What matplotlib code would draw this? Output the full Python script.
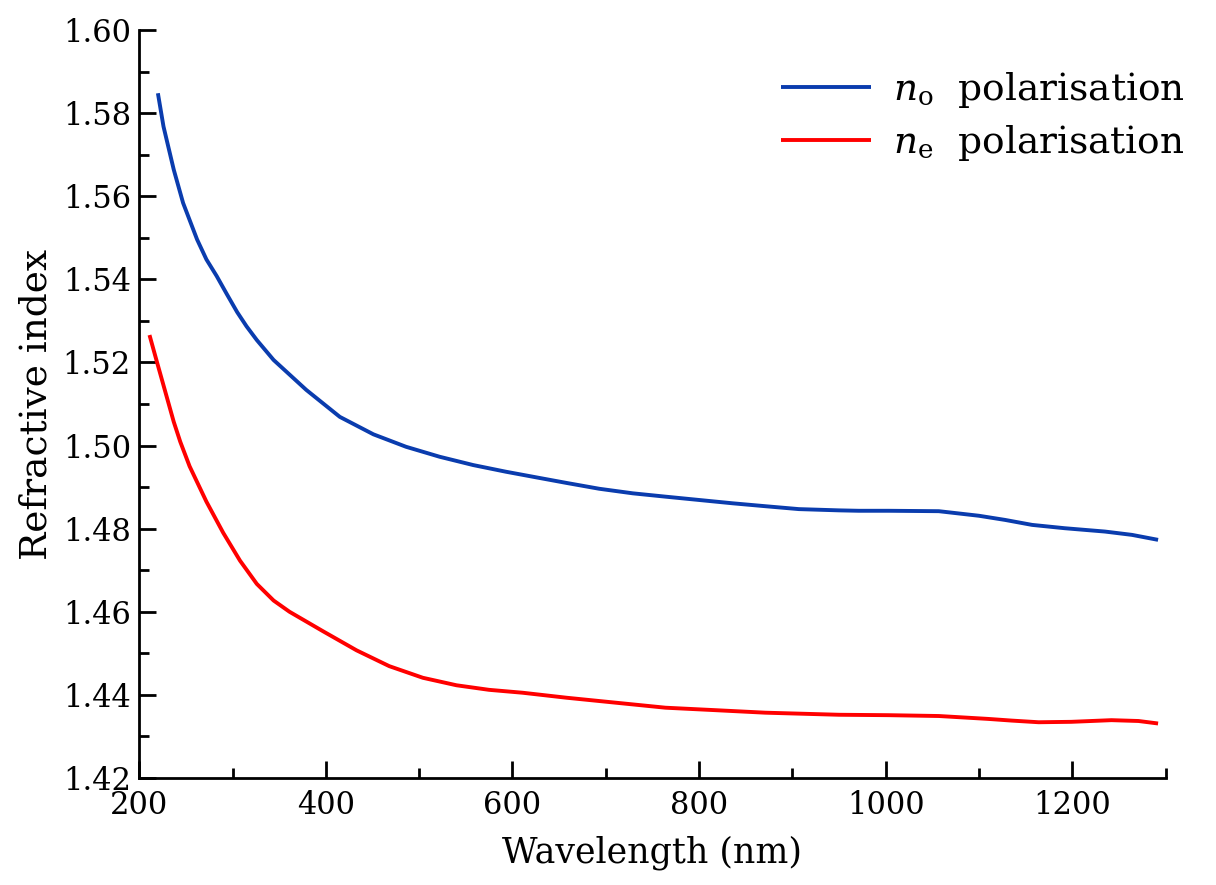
import numpy as np
import matplotlib
matplotlib.use('Agg')
import matplotlib.pyplot as plt
from matplotlib.ticker import MultipleLocator, FormatStrFormatter

plt.rcParams['font.family'] = ['DejaVu Serif']
plt.rcParams['mathtext.fontset'] = 'dejavuserif'

# n_o (ordinary) polarisation
wl_o = [220, 226, 237, 247, 262, 272, 283, 294, 305, 315, 326, 344, 379, 415,
        451, 486, 522, 558, 593, 629, 658, 693, 729, 764, 800, 836, 871, 907,
        950, 971, 1003, 1057, 1100, 1128, 1157, 1192, 1235, 1264, 1292]
n_o = [1.5848, 1.5768, 1.5664, 1.5584, 1.5496, 1.5448, 1.5408, 1.5364, 1.5321,
       1.5287, 1.5254, 1.5206, 1.5134, 1.5069, 1.5027, 1.4997, 1.4973, 1.4953,
       1.4937, 1.4922, 1.4910, 1.4896, 1.4885, 1.4877, 1.4869, 1.4861, 1.4854,
       1.4847, 1.4844, 1.4843, 1.4843, 1.4842, 1.4831, 1.4821, 1.4809, 1.4801,
       1.4793, 1.4785, 1.4773]

# n_e (extraordinary) polarisation
wl_e = [211, 219, 226, 237, 244, 254, 272, 290, 308, 326, 344, 361, 397, 433,
        468, 504, 540, 575, 611, 658, 711, 764, 818, 871, 950, 1003, 1057,
        1110, 1135, 1164, 1199, 1242, 1271, 1292]
n_e = [1.5266, 1.5201, 1.5145, 1.5057, 1.5009, 1.4950, 1.4865, 1.4790, 1.4723,
       1.4667, 1.4627, 1.4600, 1.4553, 1.4507, 1.4469, 1.4441, 1.4423, 1.4412,
       1.4405, 1.4393, 1.4381, 1.4369, 1.4363, 1.4357, 1.4352, 1.4351, 1.4349,
       1.4342, 1.4338, 1.4334, 1.4335, 1.4339, 1.4337, 1.4331]

fig = plt.figure(figsize=(12.16, 8.85), dpi=100)
ax = fig.add_axes([0.1145, 0.121, 0.844, 0.845])

ax.plot(wl_o, n_o, color='#0a3cae', lw=2.8, label=r'$n_{\mathrm{o}}$  polarisation',
        solid_capstyle='butt')
ax.plot(wl_e, n_e, color='#ff0000', lw=2.8, label=r'$n_{\mathrm{e}}$  polarisation',
        solid_capstyle='butt')

ax.set_xlim(200, 1300)
ax.set_ylim(1.42, 1.60)
ax.xaxis.set_major_locator(MultipleLocator(200))
ax.xaxis.set_minor_locator(MultipleLocator(100))
ax.yaxis.set_major_locator(MultipleLocator(0.02))
ax.yaxis.set_minor_locator(MultipleLocator(0.01))
ax.yaxis.set_major_formatter(FormatStrFormatter('%.2f'))

ax.spines['top'].set_visible(False)
ax.spines['right'].set_visible(False)
for s in ['left', 'bottom']:
    ax.spines[s].set_linewidth(2)
ax.tick_params(which='major', direction='in', length=12, width=2, labelsize=22, pad=9)
ax.tick_params(which='minor', direction='in', length=7, width=2)
ax.tick_params(axis='y', pad=6)

ax.set_xlabel('Wavelength (nm)', fontsize=25, labelpad=10)
ax.set_ylabel('Refractive index', fontsize=27, labelpad=6)

ax.legend(loc='upper right', frameon=False, fontsize=27, handlelength=2.4,
          handletextpad=0.6, labelspacing=0.35, bbox_to_anchor=(1.052, 0.992))

fig.savefig('out.png', dpi=100)
